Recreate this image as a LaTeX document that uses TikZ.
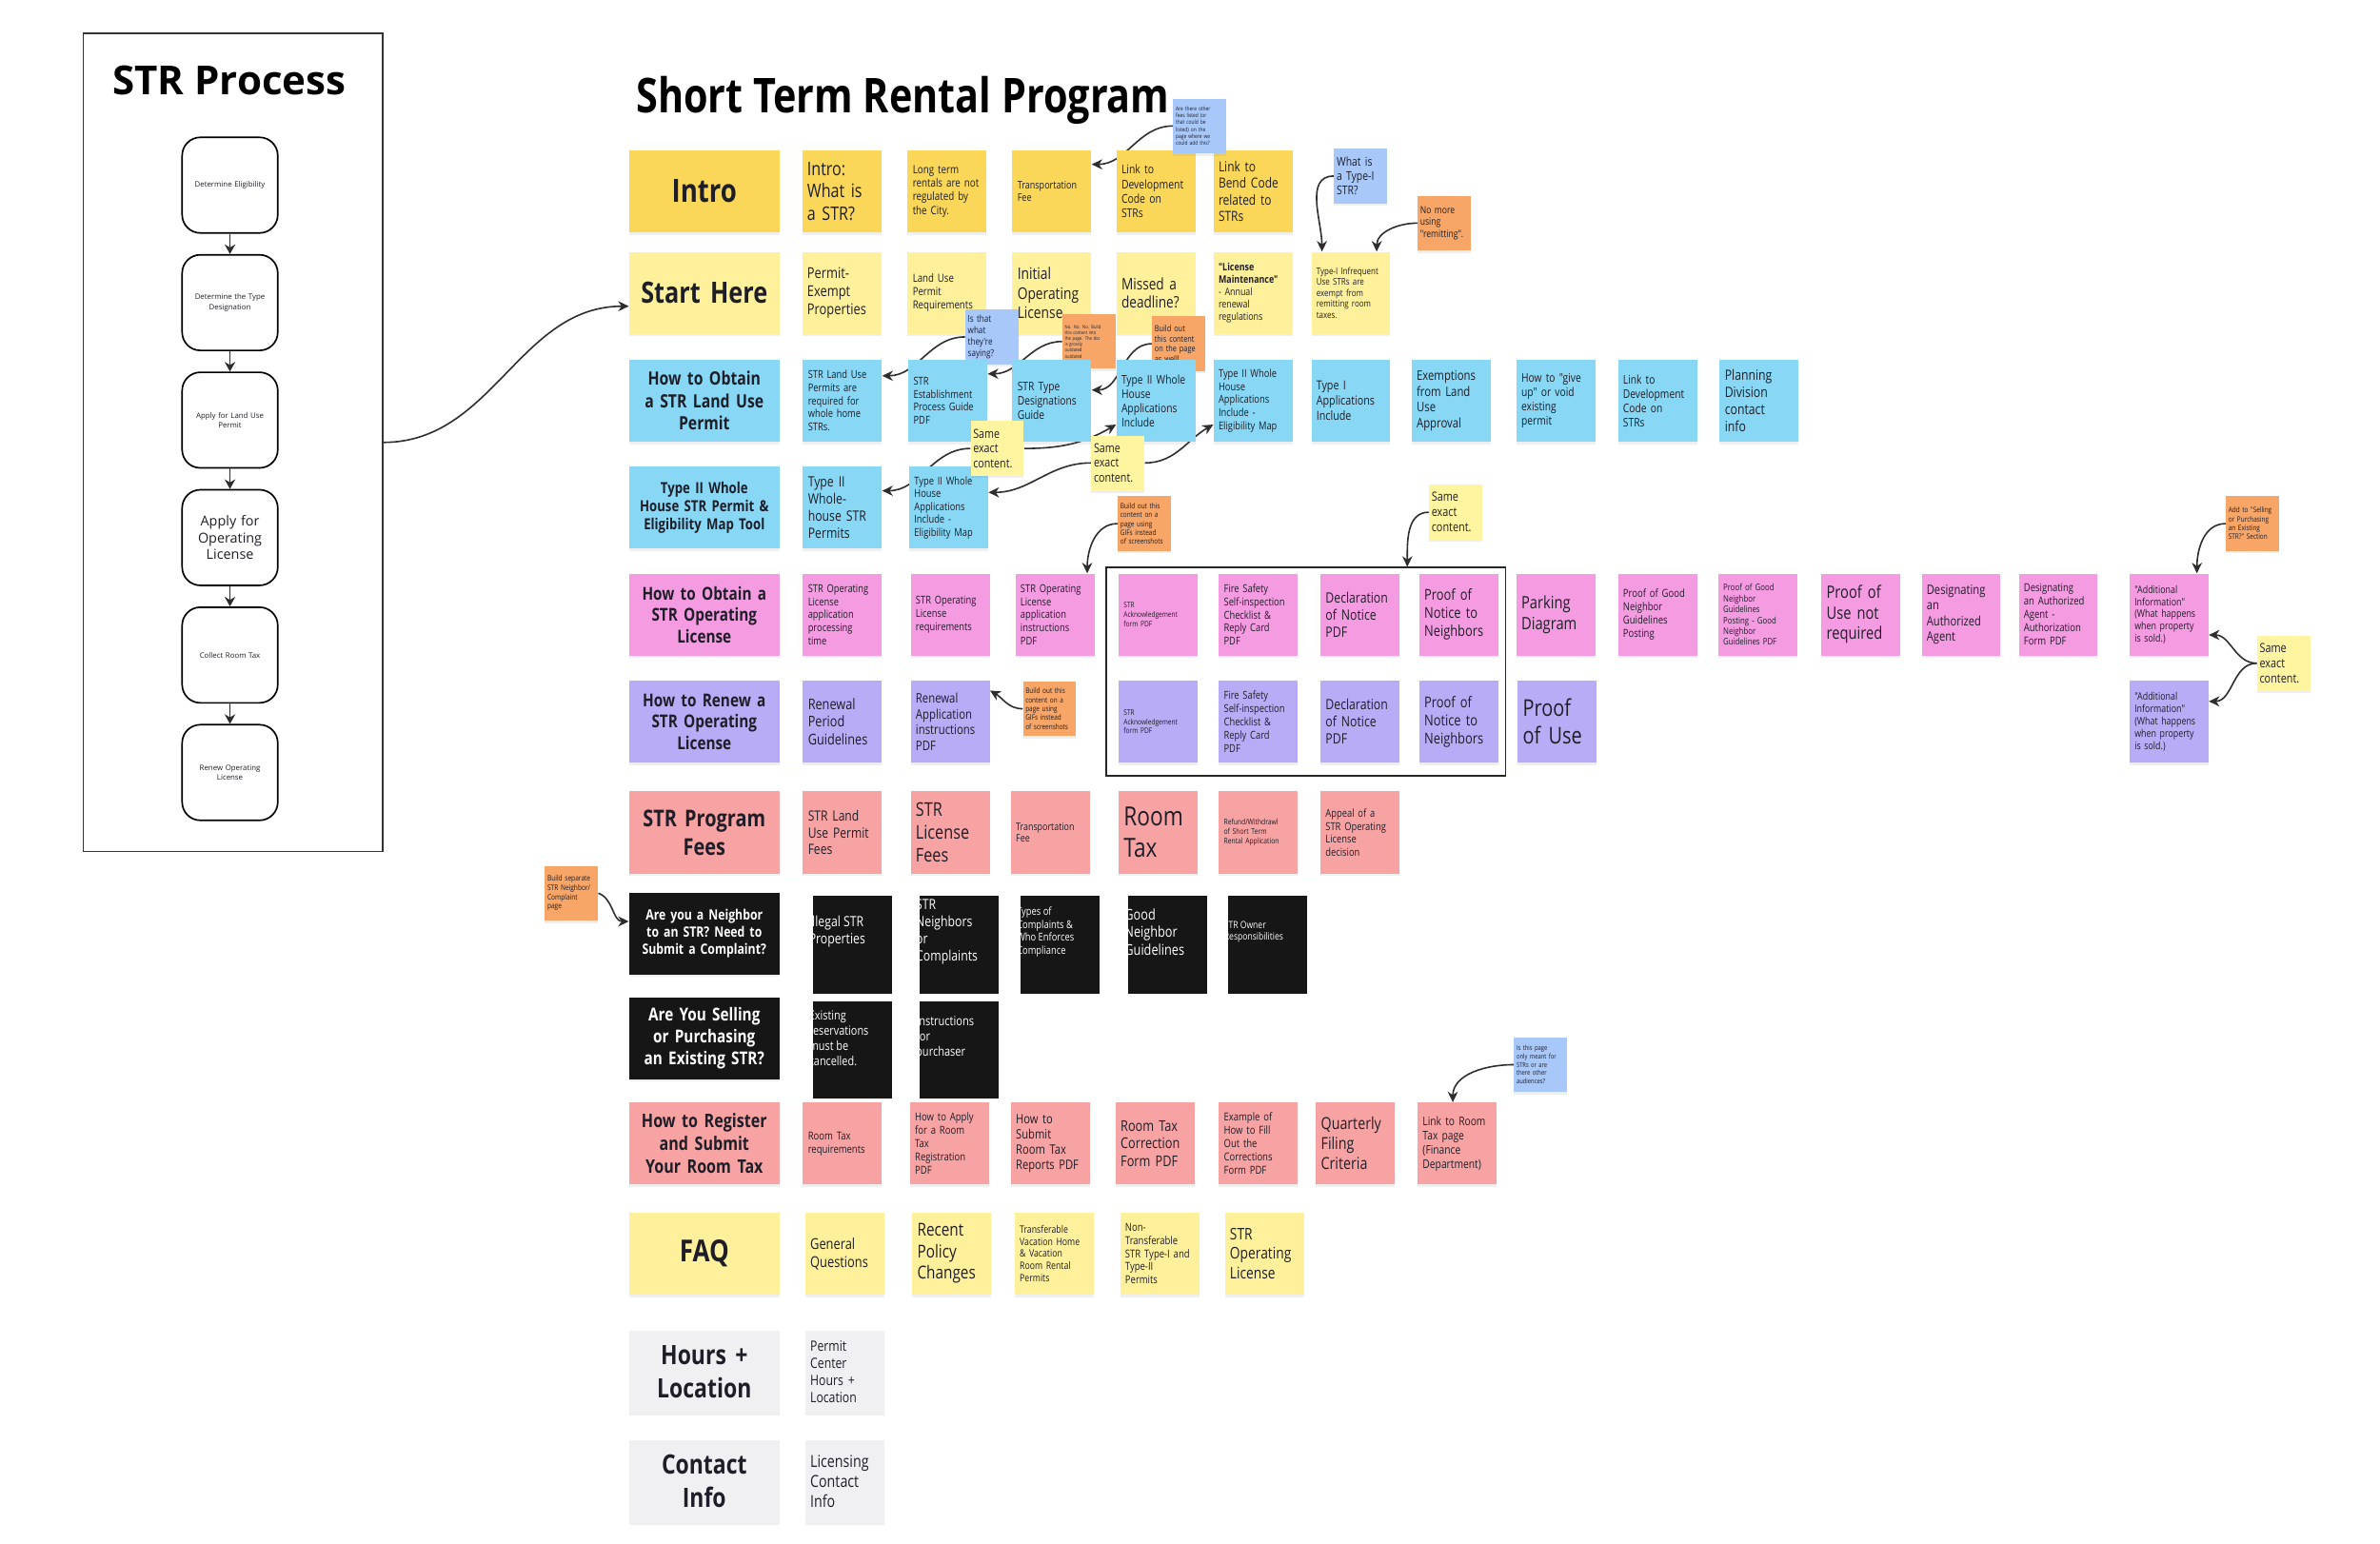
\documentclass[tikz,border=0pt]{standalone}
\usepackage{fontspec}
\setmainfont{Open Sans}
\newfontfamily\notefont{Open Sans}[FakeStretch=0.82]
\usetikzlibrary{arrows.meta,shadows,backgrounds}

\definecolor{yelA}{RGB}{250,215,88}
\definecolor{yelB}{RGB}{255,241,155}
\definecolor{yelC}{RGB}{255,245,160}
\definecolor{cyanN}{RGB}{135,215,245}
\definecolor{pinkN}{RGB}{245,155,225}
\definecolor{lavN}{RGB}{183,172,245}
\definecolor{salN}{RGB}{247,163,163}
\definecolor{blkN}{RGB}{22,22,22}
\definecolor{grayN}{RGB}{240,240,242}
\definecolor{orgN}{RGB}{247,166,104}
\definecolor{bluN}{RGB}{168,200,250}
\definecolor{inkN}{RGB}{30,30,40}
\definecolor{arrN}{RGB}{45,45,45}

\newcommand{\fsz}[2]{\fontsize{#1}{#2}\selectfont}

\tikzset{
    lift/.style={drop shadow={shadow xshift=0mm, shadow yshift=-0.5mm, opacity=0.12}},
    ft/.style 2 args={font=\notefont\fsz{#1}{#2}},
    fb/.style 2 args={font=\notefont\bfseries\fsz{#1}{#2}},
    fm/.style 2 args={font=\fsz{#1}{#2}},
    note/.style={rectangle, lift, minimum width=15.6mm, minimum height=16.2mm, text width=13.6mm, inner xsep=1mm, inner ysep=0.3mm, align=left, text=inkN},
    head/.style={rectangle, lift, minimum width=29.7mm, minimum height=16.2mm, text width=28.1mm, inner xsep=0.8mm, align=center, text=inkN},
    memo/.style={rectangle, lift, minimum width=10.5mm, minimum height=10.8mm, text width=9.5mm, inner xsep=0.5mm, inner ysep=0.3mm, align=left, text=inkN},
    hA/.style={head, fill=yelA}, hB/.style={head, fill=yelB}, hC/.style={head, fill=cyanN},
    hP/.style={head, fill=pinkN}, hL/.style={head, fill=lavN}, hS/.style={head, fill=salN},
    hK/.style={head, fill=blkN, text=white}, hG/.style={head, fill=grayN},
    yA/.style={note, fill=yelA}, yB/.style={note, fill=yelB}, cy/.style={note, fill=cyanN},
    pk/.style={note, fill=pinkN}, lv/.style={note, fill=lavN}, sl/.style={note, fill=salN},
    gy/.style={note, fill=grayN},
    mB/.style={memo, fill=bluN}, mO/.style={memo, fill=orgN}, mY/.style={memo, fill=yelC},
    blk/.style={rectangle, fill=blkN, minimum width=15.6mm, minimum height=19.2mm, inner sep=0pt},
    blktxt/.style={anchor=west, align=left, text=white, inner sep=0pt},
    procbox/.style={draw=black, line width=0.9pt, rounded corners=3.6mm, fill=white, minimum width=18.9mm, minimum height=18.9mm, text width=17mm, inner sep=0.95mm, align=center, text=inkN},
    link/.style={-{Stealth[length=2.1mm, width=2mm]}, line width=0.85pt, draw=arrN},
    down/.style={-{Stealth[length=1.9mm, width=2.1mm]}, line width=0.9pt, draw=arrN}
}

\begin{document}
\begin{tikzpicture}[x=0.3mm, y=-0.3mm]

    \useasboundingbox (0,0) rectangle (1568,1017);
    \begin{pgfonlayer}{background}
        \fill[white] (0,0) rectangle (1568,1017);
    \end{pgfonlayer}

    \node[draw=black!80, line width=0.8pt, minimum width=59.1mm, minimum height=161.7mm] (panel) at (153.5,291.5) {};
    \node[font=\bfseries\fsz{22.5}{26}] (ptitle) at (151,53) {STR Process};
    \node[procbox, fm={4.2}{5.6}] (p1) at (151.5,122) {Determine Eligibility};
    \node[procbox, fm={4.2}{5.6}] (p2) at (151.5,199.4) {Determine the Type\\Designation};
    \node[procbox, fm={4.2}{5.6}] (p3) at (151.5,276.8) {Apply for Land Use\\Permit};
    \node[procbox, fm={7.7}{9.5}] (p4) at (151.5,354.2) {Apply for\\Operating\\License};
    \node[procbox, fm={4.2}{5.6}] (p5) at (151.5,431.6) {Collect Room Tax};
    \node[procbox, fm={4.2}{5.6}] (p6) at (151.5,509) {Renew Operating\\License};
    \draw[down] (p1) -- (p2);
    \draw[down] (p2) -- (p3);
    \draw[down] (p3) -- (p4);
    \draw[down] (p4) -- (p5);
    \draw[down] (p5) -- (p6);

    \node[anchor=west, fb={27}{31}, text=black] (title) at (415,66) {Short Term Rental Program};

    \node[hA, fb={18}{21}] (intro) at (464,126) {Intro};
    \node[yA, ft={10.5}{12.6}] (r1a) at (554.5,126) {Intro:\\What is\\a STR?};
    \node[yA, ft={6.4}{7.6}] (r1b) at (624,126) {Long term\\rentals are not\\regulated by\\the City.};
    \node[yA, ft={5.9}{7}] (r1c) at (693,126) {Transportation\\Fee};
    \node[yA, ft={6.8}{8.1}] (r1d) at (761.5,126) {Link to\\Development\\Code on\\STRs};
    \node[yA, ft={7.8}{9.4}] (r1e) at (825.5,126) {Link to\\Bend Code\\related to\\STRs};
    \node[mB, ft={3.2}{3.9}] (qfees) at (790.5,83) {Are there other\\fees listed (or\\that could be\\listed) on the\\page where we\\could add this?};
    \node[mB, ft={6.8}{8.2}] (qtype) at (896.5,116) {What is\\a Type-I\\STR?};
    \node[mO, ft={5.6}{6.7}] (nomore) at (951.5,147) {No more\\using\\"remitting".};

    \node[hB, fb={16.5}{19.8}] (start) at (464,193) {Start Here};
    \node[yB, ft={8.4}{10}] (r2a) at (554.5,193) {Permit-\\Exempt\\Properties};
    \node[yB, ft={6.3}{7.5}] (r2b) at (624,193) {Land Use\\Permit\\Requirements};
    \node[yB, ft={9}{10.8}] (r2c) at (693,193) {Initial\\Operating\\License};
    \node[yB, ft={8.9}{10.6}] (r2d) at (761.5,193) {Missed a\\deadline?};
    \node[yB, ft={5.8}{6.9}] (r2e) at (825.5,193) {\textbf{"License}\\\textbf{Maintenance"}\\- Annual\\renewal\\regulations};
    \node[yB, ft={5.2}{6.2}] (r2f) at (890,193) {Type-I Infrequent\\Use STRs are\\exempt from\\remitting room\\taxes.};

    \node[mB, ft={5.3}{6.3}] (isthat) at (653.5,222) {Is that\\what\\they're\\saying?};
    \node[mO, ft={2.7}{3.3}] (nono) at (717.5,225) {No. No. No. Build\\this content into\\the page. The doc\\is grossly\\outdated\\outdated};
    \node[mO, ft={4.8}{5.8}] (buildpage) at (776.5,226.5) {Build out\\this content\\on the page\\as well!};

    \node[hC, fb={10.3}{12.4}] (landuse) at (464,264) {How to Obtain\\a STR Land Use\\Permit};
    \node[cy, ft={6.1}{7.3}] (r3a) at (555,264) {STR Land Use\\Permits are\\required for\\whole home\\STRs.};
    \node[cy, ft={6.1}{7.3}] (r3b) at (624.5,264) {STR\\Establishment\\Process Guide\\PDF};
    \node[cy, ft={6.7}{8}] (r3c) at (693,264) {STR Type\\Designations\\Guide};
    \node[cy, ft={6.7}{8}] (r3d) at (761.5,264) {Type II Whole\\House\\Applications\\Include};
    \node[cy, ft={6.1}{7.3}] (r3e) at (825.5,264) {Type II Whole\\House\\Applications\\Include -\\Eligibility Map};
    \node[cy, ft={7}{8.4}] (r3f) at (890,264) {Type I\\Applications\\Include};
    \node[cy, ft={7.4}{8.9}] (r3g) at (956,264) {Exemptions\\from Land\\Use\\Approval};
    \node[cy, ft={6.7}{8}] (r3h) at (1025,264) {How to "give\\up" or void\\existing\\permit};
    \node[cy, ft={6.7}{8}] (r3i) at (1092,264) {Link to\\Development\\Code on\\STRs};
    \node[cy, ft={8}{9.6}] (r3j) at (1159,264) {Planning\\Division\\contact\\info};

    \node[hC, fb={8.6}{10}] (typetwo) at (464,334.5) {Type II Whole\\House STR Permit \&\\Eligibility Map Tool};
    \node[cy, ft={8}{9.6}] (r4a) at (555,334.5) {Type II\\Whole-\\house STR\\Permits};
    \node[cy, ft={6.1}{7.3}] (r4b) at (625,334.5) {Type II Whole\\House\\Applications\\Include -\\Eligibility Map};
    \node[mY, ft={7}{8.4}] (same1) at (657,295.5) {Same\\exact\\content.};
    \node[mY, ft={7}{8.4}] (same2) at (736.5,305) {Same\\exact\\content.};
    \node[mO, ft={4.2}{5}] (gifs4) at (754,345) {Build out this\\content on a\\page using\\GIFs instead\\of screenshots};
    \node[mY, ft={7.1}{8.5}] (same3) at (959,337.5) {Same\\exact\\content.};

    \node[hP, fb={10}{12}] (oplic) at (464,405) {How to Obtain a\\STR Operating\\License};
    \node[pk, ft={6.1}{7.4}] (r5a) at (555,405) {STR Operating\\License\\application\\processing\\time};
    \node[pk, ft={6.1}{7.4}] (r5b) at (626,405) {STR Operating\\License\\requirements};
    \node[pk, ft={6.1}{7.4}] (r5c) at (695,405) {STR Operating\\License\\application\\instructions\\PDF};
    \node[pk, ft={4.3}{5.2}] (r5d) at (763,405) {STR\\Acknowledgement\\form PDF};
    \node[pk, ft={6.1}{7.4}] (r5e) at (829,405) {Fire Safety\\Self-inspection\\Checklist \&\\Reply Card\\PDF};
    \node[pk, ft={8}{9.7}] (r5f) at (896,405) {Declaration\\of Notice\\PDF};
    \node[pk, ft={8.4}{10.1}] (r5g) at (961,405) {Proof of\\Notice to\\Neighbors};
    \node[pk, ft={9.6}{11.5}] (r5h) at (1025,405) {Parking\\Diagram};
    \node[pk, ft={6.2}{7.5}] (r5i) at (1092,405) {Proof of Good\\Neighbor\\Guidelines\\Posting};
    \node[pk, ft={5.1}{6.1}] (r5j) at (1158,405) {Proof of Good\\Neighbor\\Guidelines\\Posting - Good\\Neighbor\\Guidelines PDF};
    \node[pk, ft={9.6}{11.5}] (r5k) at (1226,405) {Proof of\\Use not\\required};
    \node[pk, ft={7.3}{8.7}] (r5l) at (1292,405) {Designating\\an\\Authorized\\Agent};
    \node[pk, ft={6.2}{7.5}] (r5m) at (1356,405) {Designating\\an Authorized\\Agent -\\Authorization\\Form PDF};
    \node[pk, ft={5.8}{6.9}] (r5n) at (1429,405) {"Additional\\Information"\\(What happens\\when property\\is sold.)};
    \node[mO, ft={4.2}{5}] (addto) at (1484,345) {Add to "Selling\\or Purchasing\\an Existing\\STR?" Section};
    \node[mY, ft={7.1}{8.5}] (same4) at (1504.5,437) {Same\\exact\\content.};

    \node[hL, fb={10}{12}] (renew) at (464,475.5) {How to Renew a\\STR Operating\\License};
    \node[lv, ft={8.3}{10}] (r6a) at (555,475.5) {Renewal\\Period\\Guidelines};
    \node[lv, ft={7.4}{8.9}] (r6b) at (626,475.5) {Renewal\\Application\\instructions\\PDF};
    \node[mO, ft={4.2}{5}] (gifs6) at (691.5,467) {Build out this\\content on a\\page using\\GIFs instead\\of screenshots};
    \node[lv, ft={4.3}{5.2}] (r6c) at (763,475.5) {STR\\Acknowledgement\\form PDF};
    \node[lv, ft={6.1}{7.4}] (r6d) at (829,475.5) {Fire Safety\\Self-inspection\\Checklist \&\\Reply Card\\PDF};
    \node[lv, ft={8}{9.7}] (r6e) at (896,475.5) {Declaration\\of Notice\\PDF};
    \node[lv, ft={8.4}{10.1}] (r6f) at (961,475.5) {Proof of\\Notice to\\Neighbors};
    \node[lv, ft={13}{15.6}] (r6g) at (1026,475.5) {Proof\\of Use};
    \node[lv, ft={5.8}{6.9}] (r6n) at (1429,475.5) {"Additional\\Information"\\(What happens\\when property\\is sold.)};
    \node[draw=black!85, line width=0.9pt, minimum width=78.9mm, minimum height=41.1mm] (grp) at (860.5,442.5) {};

    \node[hS, fb={13}{16}] (fees) at (464,548.5) {STR Program\\Fees};
    \node[sl, ft={7.9}{9.5}] (r7a) at (555,548.5) {STR Land\\Use Permit\\Fees};
    \node[sl, ft={10.6}{12.7}] (r7b) at (626,548.5) {STR\\License\\Fees};
    \node[sl, ft={5.8}{6.9}] (r7c) at (692,548.5) {Transportation\\Fee};
    \node[sl, ft={14.8}{17.8}] (r7d) at (763,548.5) {Room\\Tax};
    \node[sl, ft={4.4}{5.3}] (r7e) at (829,548.5) {Refund/Withdrawl\\of Short Term\\Rental Application};
    \node[sl, ft={6.1}{7.3}] (r7f) at (896,548.5) {Appeal of a\\STR Operating\\License\\decision};

    \node[mO, ft={4.3}{5.2}] (sepnote) at (376.5,588.5) {Build separate\\STR Neighbor/\\Complaint\\page};
    \node[hK, fb={8}{9.6}] (neighbor) at (464,615) {Are you a Neighbor\\to an STR? Need to\\Submit a Complaint?};
    \node[blk] (r8a) at (561.5,622.5) {};
    \node[blktxt, ft={8}{9.6}] (r8at) at ([xshift=-0.75mm, yshift=2.55mm]r8a.west) {Illegal STR\\Properties};
    \node[blk] (r8b) at (632,622.5) {};
    \node[blktxt, ft={8}{9.6}] (r8bt) at ([xshift=-0.75mm, yshift=2.55mm]r8b.west) {STR\\Neighbors\\or\\Complaints};
    \node[blk] (r8c) at (698.5,622.5) {};
    \node[blktxt, ft={6.1}{7.3}] (r8ct) at ([xshift=-0.75mm, yshift=2.55mm]r8c.west) {Types of\\Complaints \&\\Who Enforces\\Compliance};
    \node[blk] (r8d) at (769.5,622.5) {};
    \node[blktxt, ft={8.3}{10}] (r8dt) at ([xshift=-0.75mm, yshift=2.55mm]r8d.west) {Good\\Neighbor\\Guidelines};
    \node[blk] (r8e) at (835,622.5) {};
    \node[blktxt, ft={5.6}{6.7}] (r8et) at ([xshift=-0.75mm, yshift=2.55mm]r8e.west) {STR Owner\\Responsibilities};

    \node[hK, fb={10}{12.2}] (selling) at (464,684) {Are You Selling\\or Purchasing\\an Existing STR?};
    \node[blk] (r9a) at (561.5,692) {};
    \node[blktxt, ft={7.1}{8.5}] (r9at) at ([xshift=-0.75mm, yshift=2.4mm]r9a.west) {Existing\\reservations\\must be\\cancelled.};
    \node[blk] (r9b) at (632,692) {};
    \node[blktxt, ft={7.2}{8.6}] (r9bt) at ([xshift=-0.75mm, yshift=2.4mm]r9b.west) {Instructions\\for\\purchaser};

    \node[hS, fb={10.5}{12.8}] (roomtax) at (464,753.5) {How to Register\\and Submit\\Your Room Tax};
    \node[sl, ft={6.2}{7.5}] (r10a) at (555,753.5) {Room Tax\\requirements};
    \node[sl, ft={6.2}{7.5}] (r10b) at (625.5,753.5) {How to Apply\\for a Room\\Tax\\Registration\\PDF};
    \node[sl, ft={7.3}{8.7}] (r10c) at (692,753.5) {How to\\Submit\\Room Tax\\Reports PDF};
    \node[sl, ft={8.3}{10}] (r10d) at (761,753.5) {Room Tax\\Correction\\Form PDF};
    \node[sl, ft={6.2}{7.5}] (r10e) at (829,753.5) {Example of\\How to Fill\\Out the\\Corrections\\Form PDF};
    \node[sl, ft={9.3}{11.2}] (r10f) at (893,753.5) {Quarterly\\Filing\\Criteria};
    \node[sl, ft={6.7}{8}] (r10g) at (960,753.5) {Link to Room\\Tax page\\(Finance\\Department)};
    \node[mB, ft={3.8}{4.6}] (qroom) at (1015,701.5) {Is this page\\only meant for\\STRs or are\\there other\\audiences?};

    \node[hB, fb={17}{20}] (faq) at (464,826) {FAQ};
    \node[yB, ft={8.4}{10.1}] (r11a) at (556.5,826) {General\\Questions};
    \node[yB, ft={10}{12}] (r11b) at (627,826) {Recent\\Policy\\Changes};
    \node[yB, ft={5.7}{6.8}] (r11c) at (694.5,826) {Transferable\\Vacation Home\\\& Vacation\\Room Rental\\Permits};
    \node[yB, ft={6.2}{7.4}] (r11d) at (764,826) {Non-\\Transferable\\STR Type-I and\\Type-II\\Permits};
    \node[yB, ft={9}{10.8}] (r11e) at (833,826) {STR\\Operating\\License};

    \node[hG, fb={15}{19}] (hours) at (464,904) {Hours +\\Location};
    \node[gy, ft={8}{9.6}] (r12a) at (556.5,904) {Permit\\Center\\Hours +\\Location};

    \node[hG, fb={15}{19}] (contact) at (464,976) {Contact\\Info};
    \node[gy, ft={9.3}{11.2}] (r13a) at (556.5,976) {Licensing\\Contact\\Info};

    \draw[link] (panel.east) to[out=0, in=180] (start.190);

    \begin{pgfonlayer}{background}
        \draw[link] (qfees.west) to[out=180, in=0] (r1c.34);
        \draw[link] (qtype.west) to[out=180, in=90] (r2f.125);
        \draw[link] (nomore.west) to[out=180, in=90] (r2f.58);
        \draw[link] (isthat.west) to[out=180, in=0] (r3a.32);
        \draw[link] (nono.west) to[out=180, in=0] (r3b.34);
        \draw[link] (buildpage.west) to[out=180, in=0] (r3c.15);
        \draw[link] (same1.east) to[out=0, in=210] (r3d.211);
        \draw[link] (same1.west) to[out=180, in=0] (r4a.23);
        \draw[link] (same2.west) to[out=180, in=0] (r4b.21);
        \draw[link] (same2.east) to[out=0, in=210] (r3e.211);
        \draw[link] (gifs4.west) to[out=180, in=90] (r5c.52);
        \draw[link] (same3.west) to[out=180, in=90] (grp.46);
        \draw[link] (addto.west) to[out=180, in=90] (r5n.56);
        \draw[link] (same4.west) to[out=180, in=0] (r5n.333);
        \draw[link] (same4.west) to[out=180, in=0] (r6n.27);
        \draw[link] (gifs6.west) to[out=180, in=-30] (r6b.38);
        \draw[link] (sepnote.east) to[out=-20, in=180] (neighbor.171);
        \draw[link] (qroom.west) to[out=180, in=90] (r10g.96);
    \end{pgfonlayer}

\end{tikzpicture}
\end{document}
